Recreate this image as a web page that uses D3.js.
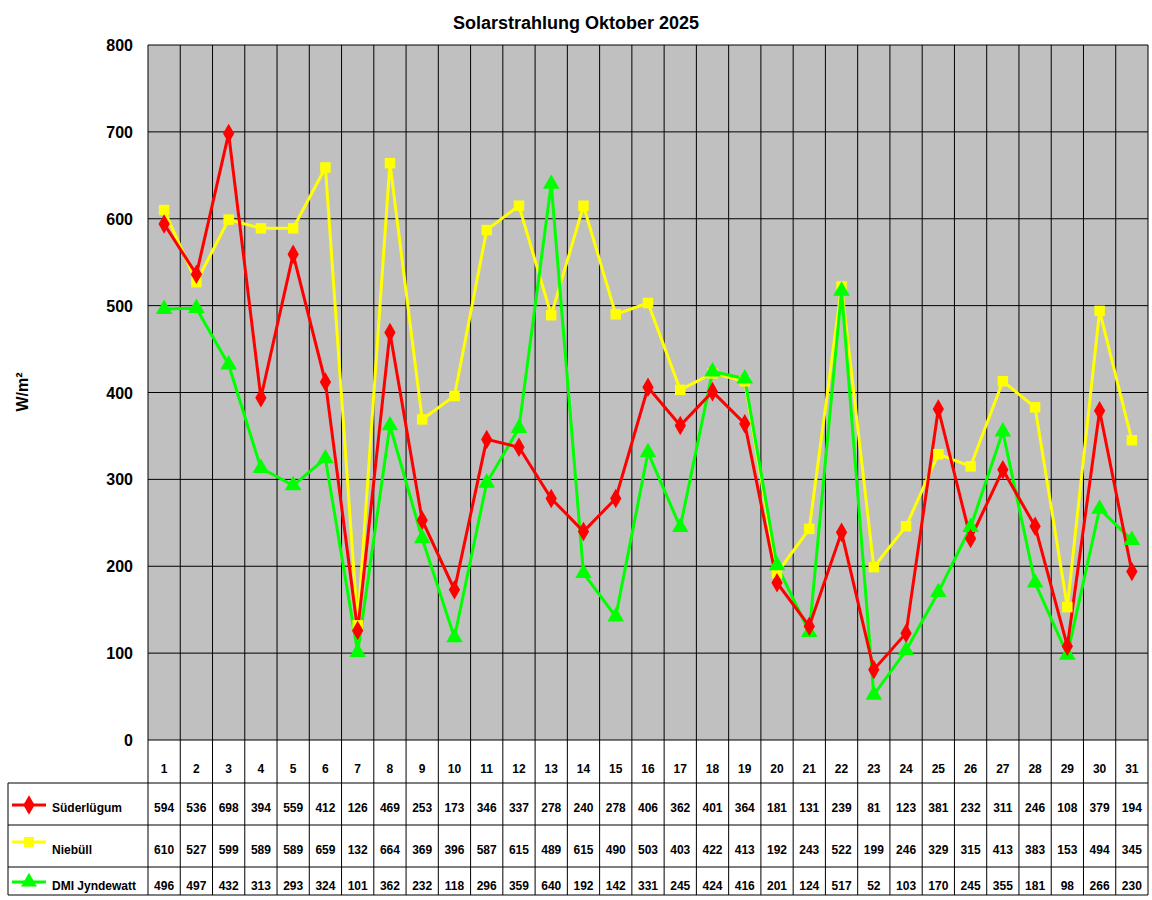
<!DOCTYPE html>
<html><head><meta charset="utf-8">
<script src="https://cdn.jsdelivr.net/npm/d3@7"></script>
<style>body{margin:0;background:#fff}text{font-family:Arial,"Liberation Sans",sans-serif}</style>
</head><body><svg id="c" width="1152" height="900"></svg>
<script>
const days = d3.range(1,32).map(String);
const seriesNames = ["Süderlügum","Niebüll","DMI Jyndewatt"];
const sued = [594,536,698,394,559,412,126,469,253,173,346,337,278,240,278,406,362,401,364,181,131,239,81,123,381,232,311,246,108,379,194];
const nieb = [610,527,599,589,589,659,132,664,369,396,587,615,489,615,490,503,403,422,413,192,243,522,199,246,329,315,413,383,153,494,345];
const dmi  = [496,497,432,313,293,324,101,362,232,118,296,359,640,192,142,331,245,424,416,201,124,517,52,103,170,245,355,181,98,266,230];
const yTicks = [0,100,200,300,400,500,600,700,800];
const colors = ["#ff0000","#ffff00","#00ff00"];
const markers = [d3.symbolDiamond, d3.symbolSquare, d3.symbolTriangle];
const data = [sued,nieb,dmi];

const svg = d3.select("#c");
const L=148,R=1148,T=45,B=740;
const x = d3.scaleBand().domain(days).range([L,R]);
const y = d3.scaleLinear().domain([0,800]).range([B,T]);

svg.append("rect").attr("x",L).attr("y",T).attr("width",R-L).attr("height",B-T).attr("fill","#c0c0c0");
svg.selectAll(".hg").data(yTicks).join("line").attr("x1",L).attr("x2",R).attr("y1",d=>y(d)).attr("y2",d=>y(d)).attr("stroke","#000").attr("stroke-width",1);
svg.selectAll(".vg").data(days).join("line").attr("x1",d=>x(d)+x.bandwidth()).attr("x2",d=>x(d)+x.bandwidth()).attr("y1",T).attr("y2",895).attr("stroke","#000");
svg.append("line").attr("x1",L).attr("x2",L).attr("y1",T).attr("y2",895).attr("stroke","#000");
svg.selectAll(".yt").data(yTicks).join("text").attr("x",133).attr("y",d=>y(d)+6).attr("text-anchor","end").attr("font-size",16).attr("font-weight","bold").text(d=>d);
svg.append("text").attr("x",576).attr("y",29).attr("text-anchor","middle").attr("font-size",18).attr("font-weight","bold").text("Solarstrahlung Oktober 2025");
svg.append("text").attr("transform","translate(28,392) rotate(-90)").attr("text-anchor","middle").attr("font-size",16).attr("font-weight","bold").text("W/m²");

// table
const rowLines=[783,825,867,895];
rowLines.forEach(v=>svg.append("line").attr("x1",8).attr("x2",R).attr("y1",v).attr("y2",v).attr("stroke","#000"));
svg.append("line").attr("x1",8).attr("x2",8).attr("y1",783).attr("y2",895).attr("stroke","#000");
svg.selectAll(".cat").data(days).join("text").attr("x",d=>x(d)+x.bandwidth()/2).attr("y",773).attr("text-anchor","middle").attr("font-size",12).attr("font-weight","bold").text(d=>d);
const rowY=[812,854,890];
data.forEach((s,i)=>{
  svg.selectAll(".v"+i).data(s).join("text").attr("x",(d,j)=>x(days[j])+x.bandwidth()/2).attr("y",rowY[i]).attr("text-anchor","middle").attr("font-size",12).attr("font-weight","bold").text(d=>d);
  const ly=[805,842,882][i];
  svg.append("line").attr("x1",12).attr("x2",46).attr("y1",ly).attr("y2",ly).attr("stroke",colors[i]).attr("stroke-width",3);
  svg.append("path").attr("d",d3.symbol(markers[i],i==0?110:(i==1?100:110))()).attr("transform",`translate(29,${ly})`).attr("fill",colors[i]);
  svg.append("text").attr("x",52).attr("y",rowY[i]+(i==2?0:0)).attr("font-size",12).attr("font-weight","bold").text(seriesNames[i]);
});
// lines
const line=d3.line().x((d,j)=>x(days[j])+x.bandwidth()/2).y(d=>y(d));
[1,2,0].forEach(i=>{
  svg.append("path").datum(data[i]).attr("d",line).attr("fill","none").attr("stroke",colors[i]).attr("stroke-width",3);
});
[1,2,0].forEach(i=>{
  svg.selectAll(".m"+i).data(data[i]).join("path").attr("d",d3.symbol(markers[i],i==0?110:(i==1?110:120))())
    .attr("transform",(d,j)=>`translate(${x(days[j])+x.bandwidth()/2},${y(d)})`).attr("fill",colors[i]);
});
</script></body></html>
